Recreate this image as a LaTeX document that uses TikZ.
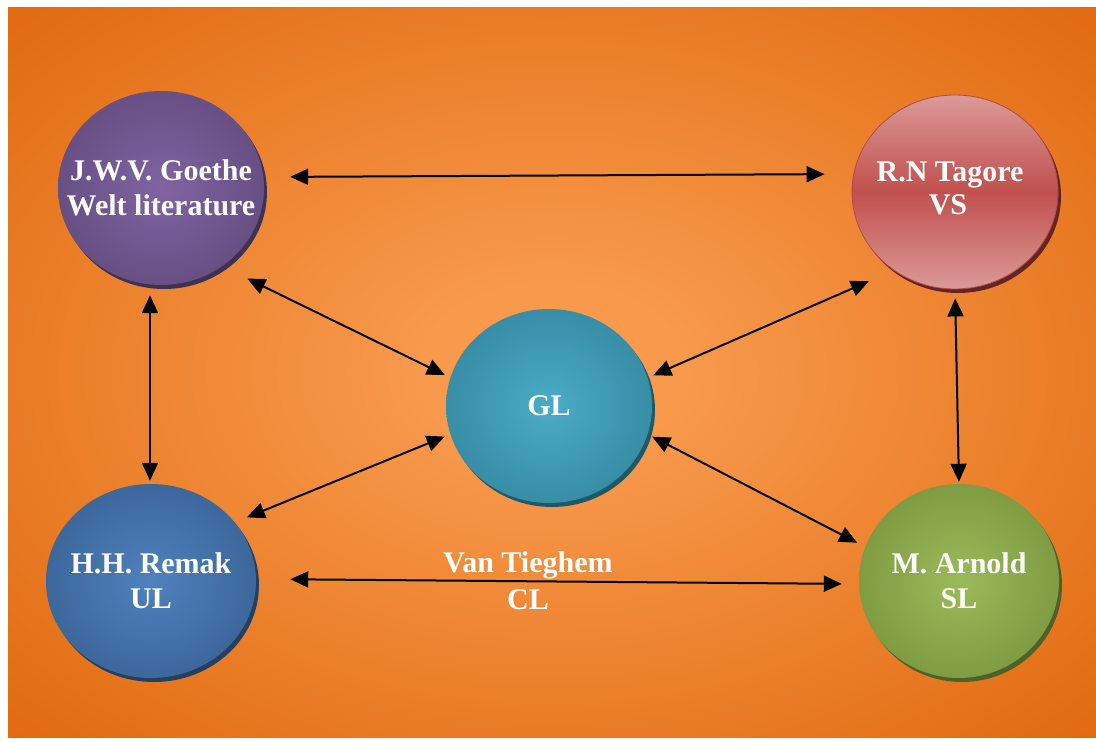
\documentclass[tikz,border=0pt]{standalone}
\usepackage{fontspec}
\setmainfont{Liberation Serif}
\usetikzlibrary{shapes.geometric,arrows.meta}

\definecolor{bgin}{HTML}{F8994C}
\definecolor{bgout}{HTML}{DF680C}
\definecolor{goethein}{HTML}{8064A2}
\definecolor{goetheout}{HTML}{5F497A}
\definecolor{goetheshadow}{HTML}{3F3151}
\definecolor{glin}{HTML}{4BACC6}
\definecolor{glout}{HTML}{31849B}
\definecolor{glshadow}{HTML}{215868}
\definecolor{remakin}{HTML}{4F81BD}
\definecolor{remakout}{HTML}{365F91}
\definecolor{remakshadow}{HTML}{243F60}
\definecolor{arnoldin}{HTML}{9BBB59}
\definecolor{arnoldout}{HTML}{76923C}
\definecolor{arnoldshadow}{HTML}{4F6128}
\definecolor{tagorelight}{HTML}{DB9A98}
\definecolor{tagorered}{HTML}{C0504D}
\definecolor{tagoreedge}{HTML}{B0494A}
\definecolor{tagoreshadow}{HTML}{632523}
\colorlet{ballin}{white}
\colorlet{ballout}{black}

\pgfdeclareradialshading[bgin,bgout]{bgshade}{\pgfpoint{0bp}{0bp}}{color(0bp)=(bgin); color(6bp)=(bgin); color(37bp)=(bgout); color(75bp)=(bgout)}
\pgfdeclareradialshading[ballin,ballout]{ballshade}{\pgfpoint{0bp}{0bp}}{color(0bp)=(ballin); color(33bp)=(ballout); color(50bp)=(ballout)}

\tikzset{
  ball/.style={ellipse, minimum width=206pt, minimum height=194pt, inner sep=-30pt,
    align=center, text=white, font=\bfseries\fontsize{30}{35}\selectfont},
  shade ball/.style n args={3}{/utils/exec={\colorlet{ballin}{#1}\colorlet{ballout}{#2}},
    shade, shading=ballshade, preaction={fill=#3, transform canvas={shift={(3pt,-4pt)}}}},
  glass ball/.style={top color=tagorelight, bottom color=tagorelight, middle color=tagorered,
    draw=tagoreedge, line width=0.8pt,
    preaction={fill=tagoreshadow, transform canvas={shift={(3pt,-4pt)}}}},
  caption/.style={align=center, text=white, font=\bfseries\fontsize{30}{37}\selectfont},
  link/.style={{Triangle[length=18pt,width=16pt]}-{Triangle[length=18pt,width=16pt]}, line width=2pt},
}

\begin{document}
\begin{tikzpicture}[x=1pt, y=-1pt]
  \fill[white] (0,0) rectangle (1096,742);
  \useasboundingbox (0,0) rectangle (1096,742);
  \shade[shading=bgshade] (8,7) rectangle (1096,737);

  \node[ball, shade ball={goethein}{goetheout}{goetheshadow}] (goethe) at (161,188) {J.W.V. Goethe\\Welt literature};
  \node[ball, glass ball] (tagore) at (955,192) {\raisebox{6pt}{R.N Tagore}\kern10pt\\\raisebox{8pt}{VS}\kern14pt};
  \node[ball, shade ball={glin}{glout}{glshadow}] (gl) at (549,406) {GL};
  \node[ball, minimum width=210pt, shade ball={remakin}{remakout}{remakshadow}] (remak) at (151,581) {H.H. Remak\\UL};
  \node[ball, minimum width=200pt, shade ball={arnoldin}{arnoldout}{arnoldshadow}] (arnold) at (959,581) {M. Arnold\\SL};
  \node[caption] (cl) at (528,581) {Van Tieghem\\CL};

  \draw[link, shorten <=26pt, shorten >=27pt] ([yshift=11pt]goethe.east) -- ([yshift=18pt]tagore.west);
  \draw[link, shorten <=28pt, shorten >=6pt] (goethe.-52) -- (gl.164);
  \draw[link, shorten <=6pt, shorten >=27pt] (gl.16) -- (tagore.-128);
  \draw[link, shorten <=10pt, shorten >=3pt] ([xshift=-11pt]goethe.south) -- ([xshift=-1pt]remak.north);
  \draw[link, shorten <=9pt, shorten >=2pt] (tagore.south) -- (arnold.north);
  \draw[link, shorten <=13pt, shorten >=6pt] (remak.35) -- (gl.196);
  \draw[link, shorten <=5pt, shorten >=9pt] (gl.-16) -- (arnold.160);
  \draw[link, shorten <=34pt, shorten >=17pt] ([yshift=2pt]remak.east) -- ([yshift=-3pt]arnold.west);

\end{tikzpicture}
\end{document}
